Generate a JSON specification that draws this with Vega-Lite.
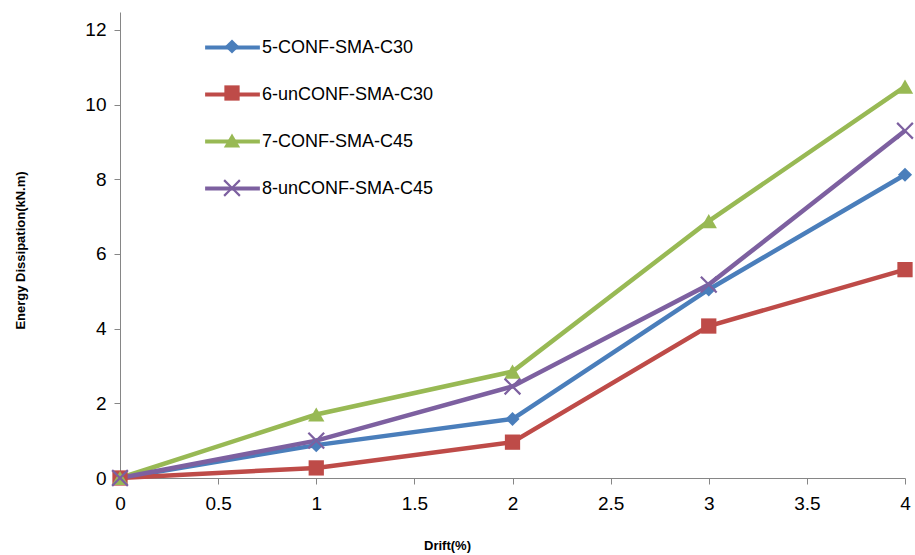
{
  "$schema": "https://vega.github.io/schema/vega-lite/v6.json",
  "width": 785,
  "height": 466,
  "autosize": {"type": "none"},
  "padding": {"left": 120, "top": 12, "right": 10, "bottom": 77},
  "background": "white",
  "config": {
    "view": {"stroke": null},
    "font": "Liberation Sans"
  },
  "data": {
    "values": [
      {"series": "5-CONF-SMA-C30", "s": "5-CONF-SMA-C30", "drift": 0, "energy": 0},
      {"series": "5-CONF-SMA-C30", "s": "5-CONF-SMA-C30", "drift": 1, "energy": 0.88},
      {"series": "5-CONF-SMA-C30", "s": "5-CONF-SMA-C30", "drift": 2, "energy": 1.58},
      {"series": "5-CONF-SMA-C30", "s": "5-CONF-SMA-C30", "drift": 3, "energy": 5.05},
      {"series": "5-CONF-SMA-C30", "s": "5-CONF-SMA-C30", "drift": 4, "energy": 8.12},
      {"series": "6-unCONF-SMA-C30", "s": "6-unCONF-SMA-C30", "drift": 0, "energy": 0},
      {"series": "6-unCONF-SMA-C30", "s": "6-unCONF-SMA-C30", "drift": 1, "energy": 0.27},
      {"series": "6-unCONF-SMA-C30", "s": "6-unCONF-SMA-C30", "drift": 2, "energy": 0.96},
      {"series": "6-unCONF-SMA-C30", "s": "6-unCONF-SMA-C30", "drift": 3, "energy": 4.07},
      {"series": "6-unCONF-SMA-C30", "s": "6-unCONF-SMA-C30", "drift": 4, "energy": 5.58},
      {"series": "7-CONF-SMA-C45", "s": "7-CONF-SMA-C45", "drift": 0, "energy": 0},
      {"series": "7-CONF-SMA-C45", "s": "7-CONF-SMA-C45", "drift": 1, "energy": 1.7},
      {"series": "7-CONF-SMA-C45", "s": "7-CONF-SMA-C45", "drift": 2, "energy": 2.85},
      {"series": "7-CONF-SMA-C45", "s": "7-CONF-SMA-C45", "drift": 3, "energy": 6.88},
      {"series": "7-CONF-SMA-C45", "s": "7-CONF-SMA-C45", "drift": 4, "energy": 10.48},
      {"series": "8-unCONF-SMA-C45", "s": "8-unCONF-SMA-C45", "drift": 0, "energy": 0},
      {"series": "8-unCONF-SMA-C45", "s": "8-unCONF-SMA-C45", "drift": 1, "energy": 1.0},
      {"series": "8-unCONF-SMA-C45", "s": "8-unCONF-SMA-C45", "drift": 2, "energy": 2.45},
      {"series": "8-unCONF-SMA-C45", "s": "8-unCONF-SMA-C45", "drift": 3, "energy": 5.18},
      {"series": "8-unCONF-SMA-C45", "s": "8-unCONF-SMA-C45", "drift": 4, "energy": 9.3}
    ]
  },
  "encoding": {
    "x": {
      "field": "drift", "type": "quantitative",
      "scale": {"domain": [0, 4], "nice": false},
      "axis": {
        "title": "Drift(%)", "values": [0, 0.5, 1, 1.5, 2, 2.5, 3, 3.5, 4], "format": "~g",
        "grid": false, "domainColor": "#868686", "tickColor": "#868686",
        "tickSize": 6, "labelFontSize": 19, "labelColor": "#000", "labelPadding": 10,
        "labelFlush": false,
        "titleFontSize": 13, "titleFontWeight": "bold", "titleColor": "#000",
        "titleX": 327, "titleY": 67, "titleBaseline": "middle"
      }
    },
    "y": {
      "field": "energy", "type": "quantitative",
      "scale": {"domain": [0, 12.48], "nice": false},
      "axis": {
        "title": "Energy Dissipation(kN.m)", "values": [0, 2, 4, 6, 8, 10, 12], "format": "~g",
        "grid": false, "domainColor": "#868686", "tickColor": "#868686",
        "tickSize": 6, "labelFontSize": 19, "labelColor": "#000", "labelPadding": 8,
        "titleFontSize": 13, "titleFontWeight": "bold", "titleColor": "#000",
        "titleX": -100, "titleY": 238, "titleAngle": -90, "titleBaseline": "middle"
      }
    }
  },
  "resolve": {"scale": {"color": "independent", "shape": "independent", "size": "independent"}, "legend": {"color": "independent", "shape": "independent"}},
  "layer": [
    {
      "mark": {"type": "line", "strokeWidth": 4.5},
      "encoding": {
        "color": {
          "field": "series", "type": "nominal",
          "scale": {"domain": ["5-CONF-SMA-C30", "6-unCONF-SMA-C30", "7-CONF-SMA-C45", "8-unCONF-SMA-C45"],
                    "range": ["#4A7EBB", "#BE4B48", "#98B954", "#7D60A0"]},
          "legend": {
            "title": null, "orient": "none", "legendX": 83, "legendY": 6,
            "symbolType": "stroke", "symbolSize": 3000, "symbolStrokeWidth": 4,
            "labelFontSize": 18, "labelColor": "#000", "labelOffset": 0, "labelLimit": 300,
            "rowPadding": 8
          }
        }
      }
    },
    {
      "mark": {"type": "point", "filled": true, "opacity": 1, "size": 200},
      "encoding": {
        "color": {
          "field": "s", "type": "nominal",
          "scale": {"range": ["#4A7EBB", "#BE4B48", "#98B954", "#7D60A0"]},
          "legend": {
            "title": null, "orient": "none", "legendX": 103, "legendY": 27,
            "symbolSize": 110, "symbolStrokeWidth": 0, "symbolOpacity": 1,
            "labelFontSize": 1, "labelExpr": "''", "labelOffset": 0,
            "rowPadding": 31
          }
        },
        "shape": {
          "field": "s", "type": "nominal",
          "scale": {"range": ["diamond", "square", "triangle-up", "M-1,-0.82L-0.82,-1L0,-0.18L0.82,-1L1,-0.82L0.18,0L1,0.82L0.82,1L0,0.18L-0.82,1L-1,0.82L-0.18,0Z"]},
          "legend": {
            "title": null, "orient": "none", "legendX": 103, "legendY": 27,
            "symbolSize": 110, "symbolStrokeWidth": 0, "symbolOpacity": 1,
            "labelFontSize": 1, "labelExpr": "''", "labelOffset": 0,
            "rowPadding": 31
          }
        },
        "size": {
          "field": "s", "type": "nominal", "legend": null,
          "scale": {"range": [200, 300, 320, 230]}
        }
      }
    }
  ]
}
